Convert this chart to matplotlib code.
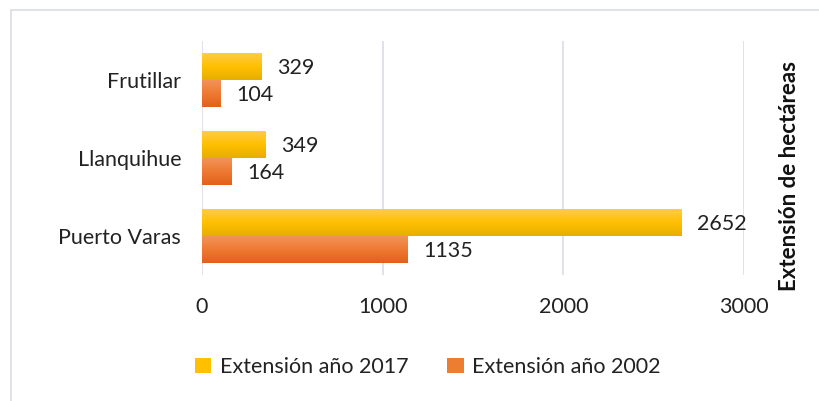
import matplotlib.pyplot as plt
import numpy as np
from matplotlib.colors import LinearSegmentedColormap
from matplotlib.patches import Rectangle

plt.rcParams['font.family'] = ['Lato', 'DejaVu Sans']

cities = ['Puerto Varas', 'Llanquihue', 'Frutillar']
ext_2017 = [2652, 349, 329]
ext_2002 = [1135, 164, 104]
series_names = ['Extensión año 2017', 'Extensión año 2002']
x_ticks = [0, 1000, 2000, 3000]

yellow = LinearSegmentedColormap.from_list('yel', ['#E5AE00', '#FFC000', '#FFCB47'])
orange = LinearSegmentedColormap.from_list('ora', ['#E2601A', '#EE7A33', '#F29358'])

fig = plt.figure(figsize=(8.2, 4.01), dpi=100)
ax = fig.add_axes([0.2463, 0.3142, 0.661, 0.5836])

# outer frame of the chart object
fig.patches.append(Rectangle((11 / 820, -0.05), 1.0, 1 - 10 / 401 + 0.05, transform=fig.transFigure,
                             fill=False, edgecolor='#D9DDE4', linewidth=1.2))

y = np.arange(len(cities))
h = 0.34
bars17 = ax.barh(y + h / 2, ext_2017, height=h, color='#FFC000', label=series_names[0], zorder=2)
bars02 = ax.barh(y - h / 2, ext_2002, height=h, color='#ED7D31', label=series_names[1], zorder=2)

grad = np.linspace(0, 1, 64).reshape(-1, 1)
for bars, cm in ((bars17, yellow), (bars02, orange)):
    for b in bars:
        x0, y0 = b.get_x(), b.get_y()
        ax.imshow(grad, cmap=cm, extent=(x0, x0 + b.get_width(), y0, y0 + b.get_height()),
                  origin='lower', aspect='auto', zorder=3)
    for b in bars:
        ax.annotate(f'{int(b.get_width())}', (b.get_width(), b.get_y() + b.get_height() / 2),
                    xytext=(11.5, -1), textcoords='offset points', va='center', ha='left',
                    fontsize=15.5, color='#222222')

ax.set_xlim(0, 3000)
ax.set_ylim(-0.5, len(cities) - 0.5)
ax.set_xticks(x_ticks)
ax.set_yticks(y)
ax.set_yticklabels(cities)
ax.tick_params(length=0, labelsize=15.5, colors='#222222')
ax.tick_params(axis='x', pad=16)
ax.tick_params(axis='y', pad=15)
for s in ax.spines.values():
    s.set_visible(False)
ax.grid(axis='x', color='#D9DDE4', linewidth=1.2, zorder=0)
ax.set_axisbelow(True)

fig.text(790 / 820, 1 - 176 / 401, 'Extensión de hectáreas', rotation=90, ha='center', va='center',
         fontsize=16, fontweight='bold', color='#111111')

sq17 = Rectangle((0, 0), 1, 1, facecolor='#FFC000')
sq02 = Rectangle((0, 0), 1, 1, facecolor='#ED7D31')
fig.legend([sq17, sq02], series_names, loc='center', bbox_to_anchor=(428 / 820, 1 - 367 / 401),
           ncol=2, frameon=False, fontsize=15.5, handlelength=0.75, handleheight=0.75,
           handletextpad=0.4, columnspacing=1.8, labelcolor='#222222')

fig.savefig('out.png', dpi=100)
